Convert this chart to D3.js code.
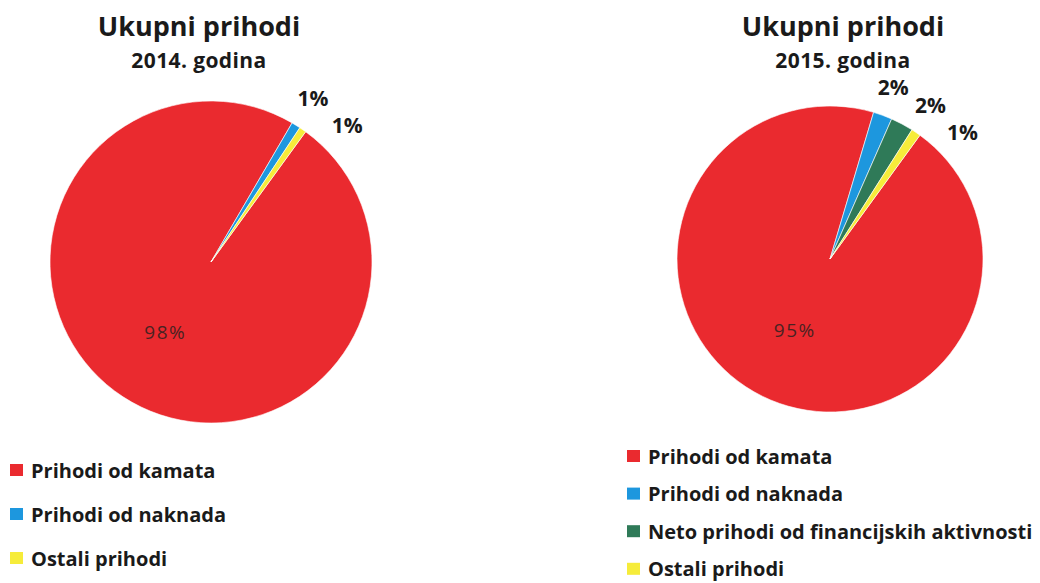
<!DOCTYPE html>
<html>
<head>
<meta charset="utf-8">
<script src="https://cdn.jsdelivr.net/npm/d3@7"></script>
<style>
  body { margin: 0; background: #fff; }
  svg text { font-family: "Open Sans", Lato, sans-serif; }
</style>
</head>
<body>
<div id="vis"></div>
<script>
/*
Data
*/

const categories2014 = ["Prihodi od kamata", "Prihodi od naknada", "Ostali prihodi"];
const values2014 = [98.4, 0.9, 0.7];

const categories2015 = ["Prihodi od kamata", "Prihodi od naknada", "Neto prihodi od financijskih aktivnosti", "Ostali prihodi"];
const values2015 = [94.6, 2.0, 2.4, 1.0];

const titles = ["Ukupni prihodi", "Ukupni prihodi"];
const subtitles = ["2014. godina", "2015. godina"];

const colours = {
    "Prihodi od kamata": "#ea2a2f",
    "Prihodi od naknada": "#1d97de",
    "Neto prihodi od financijskih aktivnosti": "#2f7a58",
    "Ostali prihodi": "#f6ec3a"
};

/*
Size constants
*/

const WIDTH = 1040;
const HEIGHT = 583;

const svg = d3.select("#vis")
                .append("svg")
                .attr("width", WIDTH)
                .attr("height", HEIGHT);

const charts = [
    {cats: categories2014, vals: values2014, cx: 211, cy: 262, r: 161, titleX: 199,
     legendX: 10, legendY: 470, legendStep: 44},
    {cats: categories2015, vals: values2015, cx: 830, cy: 259, r: 153, titleX: 843,
     legendX: 627, legendY: 456, legendStep: 37.6}
];

const startAngle = 36 * Math.PI / 180;
const minGap = 13 * Math.PI / 180;

charts.forEach((c, k) => {
    const data = c.cats.map((name, i) => ({name, value: c.vals[i]}));
    const total = d3.sum(data, d => d.value);

    const pie = d3.pie()
                  .sort(null)
                  .value(d => d.value)
                  .startAngle(startAngle)
                  .endAngle(startAngle + 2 * Math.PI);
    const arc = d3.arc().innerRadius(0).outerRadius(c.r);
    const innerLabelArc = d3.arc().innerRadius(c.r * 0.52).outerRadius(c.r * 0.52);

    const g = svg.append("g").attr("transform", `translate(${c.cx}, ${c.cy})`);
    const arcs = pie(data);

    g.selectAll("path")
     .data(arcs)
     .enter()
     .append("path")
     .attr("d", arc)
     .attr("fill", d => colours[d.data.name])
     .attr("stroke", "#fff")
     .attr("stroke-width", 0.6);

    // big slice label inside
    const big = arcs[0];
    const pc = innerLabelArc.centroid(big);
    g.append("text")
     .attr("x", pc[0])
     .attr("y", pc[1])
     .attr("text-anchor", "middle")
     .attr("dominant-baseline", "central")
     .attr("font-size", 19)
     .attr("letter-spacing", 1.5)
     .attr("fill", "#4a2222")
     .text(Math.round(big.data.value / total * 100) + "%");

    // small slice labels outside, pushed apart so they don't overlap
    let prev = -Infinity;
    arcs.slice(1).forEach(a => {
        let ang = (a.startAngle + a.endAngle) / 2;
        ang = Math.max(ang, prev + minGap);
        prev = ang;
        const rr = c.r * 1.2;
        g.append("text")
         .attr("x", rr * Math.sin(ang))
         .attr("y", -rr * Math.cos(ang))
         .attr("text-anchor", "middle")
         .attr("dominant-baseline", "central")
         .attr("font-size", 21)
         .attr("font-weight", "bold")
         .attr("fill", "#1a1a1a")
         .text(Math.round(a.data.value / total * 100) + "%");
    });

    // titles
    svg.append("text")
       .attr("x", c.titleX)
       .attr("y", 36)
       .attr("text-anchor", "middle")
       .attr("font-size", 27)
       .attr("font-weight", "bold")
       .attr("fill", "#1a1a1a")
       .text(titles[k]);
    svg.append("text")
       .attr("x", c.titleX)
       .attr("y", 68)
       .attr("text-anchor", "middle")
       .attr("font-size", 21)
       .attr("letter-spacing", 0.4)
       .attr("font-weight", "bold")
       .attr("fill", "#1a1a1a")
       .text(subtitles[k]);

    // legend
    const legend = svg.append("g")
                      .attr("transform", `translate(${c.legendX}, ${c.legendY})`);
    const rows = legend.selectAll("g")
                       .data(c.cats)
                       .enter()
                       .append("g")
                       .attr("transform", (d, i) => `translate(0, ${i * c.legendStep})`);
    rows.append("rect")
        .attr("x", 0)
        .attr("y", -6)
        .attr("width", 13)
        .attr("height", 12)
        .attr("fill", d => colours[d]);
    rows.append("text")
        .attr("x", 21)
        .attr("y", 0)
        .attr("dominant-baseline", "central")
        .attr("font-size", 20)
        .attr("font-weight", "bold")
        .attr("fill", "#1a1a1a")
        .text(d => d);
});
</script>
</body>
</html>
